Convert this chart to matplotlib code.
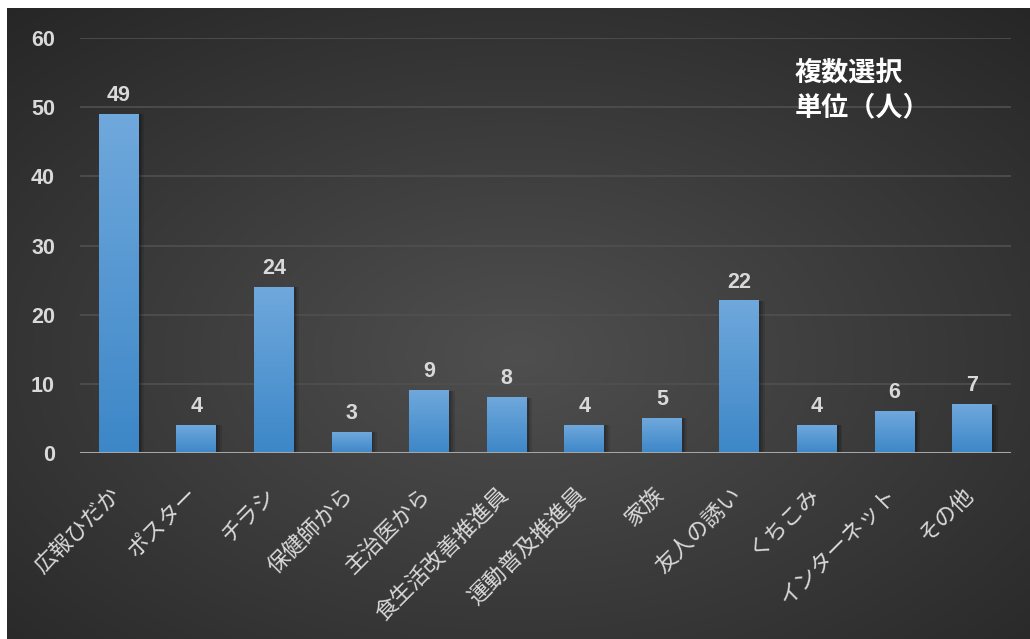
import numpy as np
import matplotlib
matplotlib.use("Agg")
import matplotlib.pyplot as plt
from matplotlib import font_manager
from matplotlib.colors import LinearSegmentedColormap
from matplotlib.transforms import ScaledTranslation

categories = ["広報ひだか", "ポスター", "チラシ", "保健師から", "主治医から", "食生活改善推進員",
              "運動普及推進員", "家族", "友人の誘い", "くちこみ", "インターネット", "その他"]
values = [49, 4, 24, 3, 9, 8, 4, 5, 22, 4, 6, 7]
yticks = [0, 10, 20, 30, 40, 50, 60]
note_lines = ["複数選択", "単位（人）"]

names = {f.name for f in font_manager.fontManager.ttflist}
num_font = "Liberation Sans Narrow" if "Liberation Sans Narrow" in names else "Liberation Sans"
jp = ["Noto Sans CJK JP", "DejaVu Sans"]

W, H = 1030, 639
fig = plt.figure(figsize=(W / 100, H / 100), dpi=100, facecolor="white")

# dark radial background
bg = fig.add_axes([7 / W, 0, 1 - 7 / W, 1 - 8 / H])
bg.set_axis_off()
yy, xx = np.mgrid[0:1:300j, 0:1:500j]
r = np.sqrt(((xx - 0.5) / 0.75) ** 2 + ((yy - 0.45) / 0.75) ** 2)
r = np.clip(r, 0, 1)
light = np.array([0x4f, 0x4f, 0x4f]) / 255
dark = np.array([0x26, 0x26, 0x26]) / 255
img = light[None, None, :] * (1 - r[..., None]) + dark[None, None, :] * r[..., None]
bg.imshow(img, aspect="auto", extent=[0, 1, 0, 1], origin="lower")
bg.set_xlim(0, 1)
bg.set_ylim(0, 1)

ax = fig.add_axes([80 / W, 1 - 453 / H, (1011 - 80) / W, (453 - 38) / H])
ax.patch.set_alpha(0)
x = np.arange(len(categories))
bw = 0.515

for yt in yticks[1:]:
    ax.axhline(yt, color="#505050", lw=1.2, zorder=1)

grad = np.linspace(0, 1, 100)[:, None]
cmap = LinearSegmentedColormap.from_list("b", ["#3d87c8", "#6fa8dc"])
for xi, v in zip(x, values):
    for k, a in [(0.07, 0.10), (0.045, 0.12), (0.025, 0.15)]:
        ax.bar(xi + k, v, bw, bottom=0, color="black", alpha=a, zorder=2, linewidth=0)
    ax.imshow(grad, cmap=cmap, aspect="auto", origin="lower",
              extent=[xi - bw / 2, xi + bw / 2, 0, v], zorder=3)
    ax.annotate(str(v), (xi, v), xytext=(0, 6), textcoords="offset points",
                ha="center", va="bottom", color="#d9d9d9", fontsize=15.5,
                fontweight="bold", family=num_font, zorder=5)
ax.set_xlim(-0.5, len(categories) - 0.5)
ax.set_ylim(0, 60)

ax.axhline(0, color="#a6a6a6", lw=2.2, zorder=4)
for s in ax.spines.values():
    s.set_visible(False)
ax.set_yticks(yticks)
ax.set_yticklabels([str(t) for t in yticks], color="#d9d9d9", fontsize=15.5,
                   fontweight="bold", family=num_font)
ax.tick_params(axis="y", length=0, pad=18)
ax.set_xticks(x)
ax.set_xticklabels(categories, rotation=45, ha="right", va="top", rotation_mode="anchor",
                   color="#d9d9d9", fontsize=16, family=jp)
ax.tick_params(axis="x", length=0, pad=20)
shift = ScaledTranslation(-10 / 100, -2 / 100, fig.dpi_scale_trans)
for lab in ax.get_xticklabels():
    lab.set_transform(lab.get_transform() + shift)

for i, line in enumerate(note_lines):
    fig.text(795 / W, 1 - (73 + i * 34) / H, line, color="white", fontsize=19.5,
             fontweight="bold", family=jp, ha="left", va="center")

fig.savefig("out.png", dpi=100, facecolor="white")
